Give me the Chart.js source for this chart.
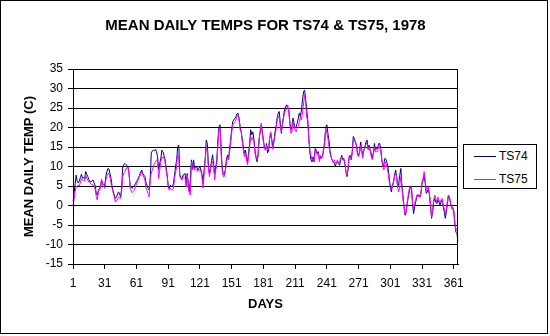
<!DOCTYPE html>
<html>
<head>
<meta charset="utf-8">
<script src="https://cdn.jsdelivr.net/npm/chart.js@4.4.0/dist/chart.umd.min.js"></script>
<style>
  body { margin: 0; background: #fff; }
  #wrap { position: absolute; left: 0; top: 0; width: 546px; height: 332px; border: 1px solid #000; background: #fff; }
  #legend { position: absolute; left: 463px; top: 144px; width: 72px; height: 43px; border: 1px solid #000; background: #fff;
            font: 12px "Liberation Sans", Arial, sans-serif; }
  .item { position: absolute; left: 10px; height: 14px; }
  .item span.ln { position: absolute; left: 0; top: 7px; width: 22px; height: 1px; }
  .item span.tx { position: absolute; left: 25px; top: 0; line-height: 14px; }
</style>
</head>
<body>
<div id="wrap"><canvas id="temps" width="546" height="332"></canvas></div>
<div id="legend"></div>
<script>
// mean daily temps 1978, day 1..365
var seriesNames = ['TS74', 'TS75'];
var seriesColors = ['#000080', '#FF00FF'];
var dayTicks = [1, 31, 61, 91, 121, 151, 181, 211, 241, 271, 301, 331, 361];
var yTicks = [-15, -10, -5, 0, 5, 10, 15, 20, 25, 30, 35];

var ts74 = [
  0.9, 3.0, 5.5, 7.8, 6.2, 5.8, 6.3, 7.2, 8.0, 7.0,
  7.2, 6.8, 8.7, 8.0, 7.4, 6.6, 6.1, 6.0, 6.4, 6.5,
  5.8, 5.0, 3.1, 2.6, 3.9, 4.3, 4.8, 6.5, 5.7, 5.4,
  5.0, 7.4, 8.6, 9.5, 9.3, 8.2, 6.9, 4.8, 3.6, 2.7,
  1.8, 2.2, 2.7, 3.5, 3.0, 2.2, 4.4, 10.0, 10.4, 10.8,
  10.5, 10.3, 9.9, 8.2, 5.2, 4.6, 4.4, 4.8, 5.2, 5.6,
  6.1, 6.5, 7.2, 7.8, 8.6, 9.1, 8.2, 7.8, 7.4, 5.8,
  5.2, 4.4, 4.0, 6.5, 13.4, 14.0, 14.2, 14.0, 14.4, 13.8,
  12.5, 9.1, 10.8, 12.0, 14.2, 13.8, 12.9, 11.7, 9.9, 7.8,
  5.2, 4.4, 5.2, 4.9, 4.8, 5.7, 7.8, 10.0, 11.7, 15.0,
  15.5, 7.8, 7.2, 6.9, 7.8, 8.0, 8.2, 5.2, 8.2, 5.7,
  3.5, 7.0, 11.7, 9.5, 11.7, 9.5, 10.0, 9.9, 9.1, 9.5,
  9.9, 9.1, 8.0, 5.7, 9.1, 12.0, 16.8, 15.9, 10.8, 8.2,
  9.5, 11.5, 13.0, 10.5, 8.2, 9.9, 11.7, 16.8, 20.2, 20.7,
  15.1, 9.9, 8.2, 7.8, 9.1, 11.7, 12.9, 11.7, 14.5, 16.8,
  19.4, 21.5, 21.9, 22.3, 22.8, 23.5, 23.7, 22.4, 20.2, 18.9,
  17.2, 15.0, 13.4, 14.2, 12.5, 11.2, 13.4, 15.9, 19.4, 18.1,
  18.9, 17.2, 14.2, 12.5, 11.2, 13.4, 17.2, 18.9, 20.6, 18.9,
  16.8, 15.0, 14.2, 15.9, 13.5, 14.2, 17.2, 18.5, 16.8, 15.0,
  16.3, 18.9, 20.2, 22.4, 23.7, 24.1, 21.1, 18.5, 21.1, 22.8,
  24.5, 25.4, 25.8, 24.9, 24.5, 21.5, 19.4, 20.2, 22.4, 21.1,
  19.8, 20.2, 21.1, 22.4, 23.7, 22.8, 24.5, 27.1, 29.2, 29.6,
  27.1, 24.5, 21.5, 17.2, 13.4, 11.7, 11.2, 12.5, 11.2, 14.6,
  14.2, 13.4, 13.8, 11.7, 12.5, 12.1, 12.9, 14.2, 16.8, 20.2,
  20.7, 18.5, 16.8, 14.0, 12.5, 11.7, 11.2, 11.0, 10.1, 10.8,
  11.2, 10.8, 10.3, 11.7, 12.9, 11.7, 12.1, 10.8, 8.7, 7.4,
  9.1, 12.5, 12.9, 11.7, 13.8, 17.7, 17.2, 16.3, 15.5, 13.4,
  12.9, 13.8, 16.3, 14.2, 12.9, 14.2, 15.1, 16.3, 16.8, 14.6,
  15.5, 14.2, 13.4, 12.1, 13.4, 15.9, 14.2, 14.6, 14.6, 15.9,
  15.9, 14.6, 11.7, 9.9, 10.8, 12.1, 11.7, 10.8, 9.5, 7.0,
  4.8, 3.5, 5.2, 6.1, 7.8, 9.1, 7.4, 4.8, 5.7, 7.8,
  9.5, 4.8, 2.2, -0.3, -2.5, -1.6, 0.5, 2.2, 3.5, 4.8,
  4.4, 0.5, -2.1, -0.3, 0.9, 2.2, 2.7, 2.7, 2.2, 3.1,
  5.7, 6.5, 7.8, 5.7, 3.1, 3.5, 4.4, 2.7, -0.3, -3.3,
  -1.6, 0.9, 1.8, 0.9, 0.5, 1.4, 0.9, 0.1, 0.9, 1.4,
  -0.3, -1.6, -3.3, -1.6, 0.5, 2.7, 1.8, 0.5, -0.3, -0.8,
  -1.6, -4.6, -6.8, -7.2, -9.3
];

var ts75 = [
  0.1, 1.5, 3.5, 4.8, 5.0, 5.2, 5.0, 6.0, 6.9, 6.5,
  6.5, 6.2, 7.8, 7.0, 6.5, 6.0, 5.7, 5.5, 5.4, 5.2,
  5.0, 4.2, 2.2, 1.4, 3.5, 3.9, 4.4, 6.8, 5.2, 4.9,
  4.4, 6.5, 7.6, 8.2, 8.2, 7.0, 5.7, 4.4, 3.2, 2.2,
  0.9, 1.4, 1.4, 2.2, 2.0, 1.8, 3.5, 7.4, 8.2, 8.7,
  9.5, 9.6, 9.8, 8.2, 4.4, 3.8, 3.3, 3.6, 3.9, 4.8,
  5.5, 6.1, 6.8, 7.4, 8.2, 8.7, 7.8, 7.2, 6.5, 4.4,
  3.8, 3.1, 2.2, 6.9, 8.2, 9.1, 9.9, 10.8, 11.2, 11.7,
  11.7, 6.9, 9.1, 11.0, 12.5, 12.1, 12.5, 11.2, 9.1, 7.4,
  4.8, 3.9, 4.4, 4.2, 3.9, 4.4, 6.9, 8.5, 9.9, 13.4,
  12.1, 7.4, 6.9, 6.5, 7.4, 7.2, 6.9, 4.8, 7.8, 5.0,
  3.1, 2.7, 11.2, 9.1, 9.9, 9.1, 9.3, 9.1, 8.7, 9.0,
  9.1, 8.7, 7.0, 4.4, 8.2, 11.5, 15.1, 13.8, 9.5, 7.4,
  9.1, 11.0, 11.2, 9.5, 6.5, 9.1, 10.8, 15.5, 19.4, 19.8,
  13.4, 9.1, 7.4, 7.4, 8.7, 10.8, 12.5, 11.7, 13.5, 15.9,
  18.5, 20.7, 21.1, 21.5, 21.9, 22.8, 23.2, 21.9, 19.4, 18.9,
  16.4, 14.2, 12.5, 13.4, 11.7, 10.4, 12.5, 15.1, 17.7, 16.8,
  17.5, 16.4, 13.8, 12.1, 11.7, 12.5, 16.8, 19.4, 21.1, 18.5,
  16.4, 14.7, 14.2, 15.5, 14.2, 14.7, 17.7, 18.9, 15.9, 14.4,
  16.8, 18.1, 19.4, 21.9, 22.8, 22.4, 20.2, 18.9, 20.7, 22.4,
  23.7, 24.5, 24.5, 25.8, 24.1, 21.1, 18.5, 18.9, 21.5, 20.2,
  19.4, 18.9, 19.8, 20.2, 21.5, 22.8, 21.9, 23.7, 26.2, 28.4,
  26.2, 22.5, 21.9, 16.8, 14.2, 12.9, 11.7, 12.1, 11.2, 14.2,
  13.8, 12.9, 13.4, 11.2, 12.9, 12.5, 12.5, 15.1, 15.9, 19.8,
  18.5, 17.2, 15.1, 13.4, 12.5, 11.7, 11.0, 11.7, 10.8, 11.2,
  11.7, 11.2, 10.8, 12.1, 12.5, 11.7, 11.7, 11.2, 8.7, 7.8,
  9.5, 12.1, 12.5, 11.7, 13.4, 16.8, 16.4, 16.4, 15.1, 12.9,
  12.5, 13.4, 15.5, 13.8, 12.1, 14.2, 14.7, 15.9, 15.9, 14.2,
  15.1, 13.8, 12.5, 11.7, 12.9, 15.1, 13.8, 13.8, 13.8, 15.5,
  14.7, 13.8, 11.7, 9.9, 9.1, 11.2, 10.8, 9.9, 8.2, 6.0,
  4.4, 4.4, 4.8, 5.7, 7.4, 8.2, 7.4, 4.4, 3.5, 5.2,
  7.4, 4.8, 1.4, -0.3, -2.1, -1.6, 0.9, 2.7, 4.4, 5.0,
  4.8, 0.9, -0.8, 0.5, 1.4, 2.7, 2.7, 2.2, 2.2, 3.1,
  6.1, 6.9, 8.7, 6.5, 3.9, 4.4, 4.8, 3.1, 0.5, -2.9,
  -1.2, 1.4, 2.7, 1.8, 0.9, 2.2, 1.4, 0.9, 1.4, 1.8,
  0.1, -0.8, -2.1, -0.8, 1.4, 2.7, 2.2, 0.5, -0.8, -0.3,
  -1.2, -4.2, -6.3, -5.9, -8.4
];

var days = ts74.map(function (v, i) { return String(i + 1) });

var fontFamily = '"Liberation Sans", Arial, sans-serif';

// frame round the plot area, like the excel plot border
var plotFrame = {
  id: 'plotFrame',
  afterDraw: function (chart) {
    var a = chart.chartArea, ctx = chart.ctx;
    ctx.save();
    ctx.strokeStyle = '#000';
    ctx.lineWidth = 1;
    ctx.strokeRect(Math.round(a.left) + 0.5, Math.round(a.top) + 0.5,
                   Math.round(a.right - a.left) - 1, Math.round(a.bottom - a.top));
    ctx.restore();
  }
};

var chart = new Chart(document.getElementById('temps'), {
  type: 'line',
  data: {
    labels: days,
    datasets: [{
      label: seriesNames[0],
      data: ts74,
      borderColor: seriesColors[0],
      borderWidth: 1,
      pointRadius: 0,
      tension: 0,
      order: 2
    }, {
      label: seriesNames[1],
      data: ts75,
      borderColor: seriesColors[1],
      borderWidth: 1,
      pointRadius: 0,
      tension: 0,
      order: 1
    }]
  },
  options: {
    responsive: false,
    animation: false,
    layout: { padding: { left: 0, right: 89, top: 0, bottom: 0 } },
    plugins: {
      legend: { display: false },
      tooltip: { enabled: false },
      title: {
        display: true,
        fullSize: false,
        text: 'MEAN DAILY TEMPS FOR TS74 & TS75, 1978',
        color: '#000',
        font: { family: fontFamily, size: 15, weight: 'bold', lineHeight: '16px' },
        padding: { top: 17, bottom: 35 }
      }
    },
    scales: {
      x: {
        type: 'category',
        grid: {
          display: true,
          drawOnChartArea: false,
          drawTicks: true,
          tickLength: 5,
          color: function (c) { return dayTicks.indexOf(c.index + 1) >= 0 ? '#000' : 'rgba(0,0,0,0)' }
        },
        border: { display: true, color: '#000' },
        ticks: {
          autoSkip: false,
          maxRotation: 0,
          padding: 7,
          color: '#000',
          font: { family: fontFamily, size: 12 },
          callback: function (v, i) { return dayTicks.indexOf(i + 1) >= 0 ? days[i] : '' }
        },
        title: {
          display: true,
          text: 'DAYS',
          color: '#000',
          font: { family: fontFamily, size: 13, weight: 'bold' },
          padding: { top: 0, bottom: 21 }
        },
        afterFit: function (s) { s.height = 69 }
      },
      y: {
        min: yTicks[0],
        max: yTicks[yTicks.length - 1],
        afterBuildTicks: function (s) { s.ticks = yTicks.map(function (v) { return { value: v } }) },
        grid: { color: '#000', lineWidth: 1, tickLength: 5 },
        border: { display: true, color: '#000' },
        ticks: {
          padding: 5,
          color: '#000',
          font: { family: fontFamily, size: 12 }
        },
        title: {
          display: true,
          text: 'MEAN DAILY TEMP (C)',
          color: '#000',
          font: { family: fontFamily, size: 13, weight: 'bold' },
          padding: { top: 21, bottom: 0 }
        },
        afterFit: function (s) { s.width = 72 }
      }
    }
  },
  plugins: [plotFrame]
});

// legend box to the right, from the series names and colours
var legend = document.getElementById('legend');
seriesNames.forEach(function (name, i) {
  var it = document.createElement('div');
  it.className = 'item';
  it.style.top = (4 + i * 23) + 'px';
  it.innerHTML = '<span class="ln" style="background:' + seriesColors[i] + '"></span><span class="tx">' + name + '</span>';
  legend.appendChild(it);
});
</script>
</body>
</html>
